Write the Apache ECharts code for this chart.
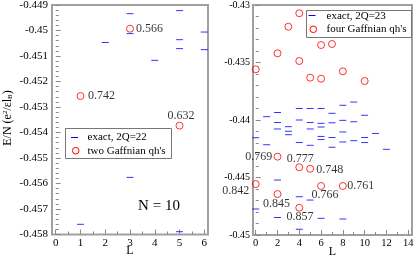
<!DOCTYPE html>
<html>
<head>
<meta charset="utf-8">
<script src="https://cdn.jsdelivr.net/npm/echarts@6/dist/echarts.min.js"></script>
<style>html,body{margin:0;padding:0;background:#fff}#c{width:415px;height:257px}</style>
</head>
<body>
<div id="c"></div>
<script>
// ---------- data: left panel (N = 10, 2Q = 22) ----------
const L_EXACT_22 = [1, 2, 3, 3, 3, 4, 5, 5, 5, 5, 6, 6];
const E_EXACT_22 = [-0.4576, -0.45047, -0.44934, -0.45012, -0.45576, -0.45117, -0.44922, -0.45036, -0.45071, -0.45789, -0.45006, -0.45075];
const L_GAFF_2 = [1, 3, 5];
const E_GAFF_2 = [-0.45257, -0.44993, -0.45373];
const OVL_GAFF_2 = ['0.742', '0.566', '0.632'];
const X_TICKS_LEFT = [0, 1, 2, 3, 4, 5, 6];
const Y_TICKS_LEFT = [-0.458, -0.457, -0.456, -0.455, -0.454, -0.453, -0.452, -0.451, -0.45, -0.449];

// ---------- data: right panel (2Q = 23) ----------
const L_EXACT_23 = [0, 0, 1, 1, 2, 2, 2, 2, 2, 3, 3, 3, 4, 4, 4, 4, 4, 5, 5, 5, 5, 5,
  6, 6, 6, 6, 6, 6, 7, 7, 7, 7, 8, 8, 8, 8, 8, 9, 9, 9, 10, 10, 10, 11, 12];
const E_EXACT_23 = [-0.44154, -0.44774, -0.43971, -0.44215, -0.43935, -0.44022, -0.44078, -0.44522, -0.44848,
  -0.44058, -0.44098, -0.44128, -0.4390, -0.44, -0.44196, -0.44667, -0.4495,
  -0.4390, -0.44022, -0.44078, -0.4422, -0.44696,
  -0.4390, -0.44029, -0.44061, -0.44143, -0.4417, -0.44855,
  -0.43942, -0.44024, -0.44152, -0.44237,
  -0.43872, -0.44003, -0.44104, -0.44191, -0.44861,
  -0.43844, -0.44015, -0.4418,
  -0.43959, -0.44152, -0.44196, -0.44117, -0.44255];
const L_GAFF_4 = [0, 2, 3, 4, 4, 5, 6, 6, 7, 8, 10, 0, 2, 2, 4, 5, 4, 6, 8];
const E_GAFF_4 = [-0.43559, -0.4342, -0.43189, -0.43072, -0.43487, -0.43632, -0.43348, -0.43641, -0.43339, -0.43577, -0.43661,
  -0.44557, -0.44319, -0.44644, -0.44411, -0.44424, -0.44763, -0.44574, -0.44574];
const OVL_GAFF_4 = ['', '', '', '', '', '', '', '', '', '', '',
  '0.842', '0.769', '0.845', '0.777', '0.748', '0.857', '0.766', '0.761'];
const X_TICKS_RIGHT = [0, 2, 4, 6, 8, 10, 12, 14];
const Y_TICKS_RIGHT = [-0.45, -0.445, -0.44, -0.435, -0.43];

// ---------- styles ----------
const SERIF = 'Liberation Serif';
const FRAME = '#a0a0a0';
const TICKC = '#8a8a8a';
const BLUE = '#0000ff';
const RED = '#ff0000';
// label placement (px offsets from circle centre), keyed by label text
const LABEL_OFFSET = {
  '0.742': [21, 0], '0.566': [19.5, 0], '0.632': [1.5, -9.6],
  '0.842': [-20, 6.7], '0.769': [-18.7, 0.6], '0.845': [-1, 9.7], '0.777': [1, -8.5],
  '0.748': [19.7, 0.6], '0.857': [0.7, 9], '0.766': [4, 9], '0.761': [18, 0]
};

function zip(xs, ys) { return xs.map((x, i) => [x, ys[i]]); }
function circles(xs, ys, labels) {
  return xs.map((x, i) => {
    const t = labels[i];
    const item = { value: [x, ys[i]] };
    if (t) {
      item.label = {
        show: true, position: 'inside', formatter: t, offset: LABEL_OFFSET[t] || [0, 0],
        color: '#000', fontFamily: SERIF, fontSize: 12, align: 'center', verticalAlign: 'middle'
      };
    }
    return item;
  });
}
function minorBetween(ticks, n) {
  const out = [];
  for (let i = 0; i < ticks.length - 1; i++) {
    for (let k = 1; k < n; k++) out.push(ticks[i] + (ticks[i + 1] - ticks[i]) * k / n);
  }
  return out;
}
const fmt = v => String(Number((+v).toFixed(4)));

function xAxisMain(grid, min, max, ticks, fs) {
  return {
    type: 'value', gridIndex: grid, min: min, max: max,
    axisLine: { show: false }, splitLine: { show: false },
    axisTick: { show: true, inside: true, length: 5, customValues: ticks, lineStyle: { color: TICKC, width: 1 } },
    axisLabel: { show: true, customValues: ticks, margin: 3, fontFamily: SERIF, fontSize: fs, color: '#000', formatter: fmt },
    name: 'L', nameLocation: 'middle', nameGap: 10.5, nameMoveOverlap: false,
    nameTextStyle: { fontFamily: SERIF, fontSize: 12, color: '#000', verticalAlign: 'top' }
  };
}
function axisMinor(kind, grid, min, max, vals, len) {
  return {
    type: 'value', gridIndex: grid, min: min, max: max, position: kind === 'x' ? 'bottom' : 'left',
    axisLine: { show: false }, splitLine: { show: false }, axisLabel: { show: false },
    axisTick: { show: true, inside: true, length: len, customValues: vals, lineStyle: { color: TICKC, width: 1 } }
  };
}
function yAxisMain(grid, min, max, ticks, fs, margin) {
  return {
    type: 'value', gridIndex: grid, min: min, max: max,
    axisLine: { show: false }, splitLine: { show: false },
    axisTick: { show: true, inside: true, length: 5, customValues: ticks, lineStyle: { color: TICKC, width: 1 } },
    axisLabel: { show: true, customValues: ticks, margin: margin, fontFamily: SERIF, fontSize: fs, color: '#000', formatter: fmt }
  };
}

const chart = echarts.init(document.getElementById('c'), null, { renderer: 'canvas' });
const option = {
  animation: false,
  backgroundColor: '#fff',
  grid: [
    { left: 52, top: 5, width: 156, height: 229.5, show: true, borderColor: FRAME, borderWidth: 2, backgroundColor: 'transparent',
      containLabel: false, outerBoundsMode: 'none' },
    { left: 253, top: 5, width: 159, height: 230, show: true, borderColor: FRAME, borderWidth: 2, backgroundColor: 'transparent',
      containLabel: false, outerBoundsMode: 'none' }
  ],
  xAxis: [
    xAxisMain(0, -0.15, 6.15, X_TICKS_LEFT, 11),
    axisMinor('x', 0, -0.15, 6.15, minorBetween(X_TICKS_LEFT, 2), 3),
    xAxisMain(1, -0.25, 14.35, X_TICKS_RIGHT, 10.5),
    axisMinor('x', 1, -0.25, 14.35, minorBetween(X_TICKS_RIGHT, 2), 3)
  ],
  yAxis: [
    yAxisMain(0, -0.458, -0.449, Y_TICKS_LEFT, 11, 4),
    axisMinor('y', 0, -0.458, -0.449, minorBetween(Y_TICKS_LEFT, 5), 3),
    yAxisMain(1, -0.45, -0.43, Y_TICKS_RIGHT, 10, 3),
    axisMinor('y', 1, -0.45, -0.43, minorBetween(Y_TICKS_RIGHT, 5), 3)
  ],
  series: [
    { name: 'exact, 2Q=22', type: 'scatter', xAxisIndex: 0, yAxisIndex: 0, symbol: 'rect', symbolSize: [7, 1],
      itemStyle: { color: BLUE }, data: zip(L_EXACT_22, E_EXACT_22) },
    { name: "two Gaffnian qh's", type: 'scatter', xAxisIndex: 0, yAxisIndex: 0, symbol: 'circle', symbolSize: 7,
      itemStyle: { color: 'rgba(0,0,0,0)', borderColor: RED, borderWidth: 1 }, data: circles(L_GAFF_2, E_GAFF_2, OVL_GAFF_2) },
    { name: 'exact, 2Q=23', type: 'scatter', xAxisIndex: 2, yAxisIndex: 2, symbol: 'rect', symbolSize: [7, 1],
      itemStyle: { color: BLUE }, data: zip(L_EXACT_23, E_EXACT_23) },
    { name: "four Gaffnian qh's", type: 'scatter', xAxisIndex: 2, yAxisIndex: 2, symbol: 'circle', symbolSize: 7,
      itemStyle: { color: 'rgba(0,0,0,0)', borderColor: RED, borderWidth: 1 }, data: circles(L_GAFF_4, E_GAFF_4, OVL_GAFF_4) }
  ],
  graphic: [
    // y-axis title
    { type: 'text', x: 8, y: 118, rotation: Math.PI / 2, z: 10,
      style: { text: '{a|E/N (e}{s|2}{a|/εl}{b|B}{a|)}', align: 'center', verticalAlign: 'middle',
        rich: { a: { fontFamily: SERIF, fontSize: 12, color: '#000' },
                s: { fontFamily: SERIF, fontSize: 7, color: '#000', verticalAlign: 'top' },
                b: { fontFamily: SERIF, fontSize: 7, color: '#000', verticalAlign: 'bottom' } } } },
    // N = 10
    { type: 'text', x: 159, y: 206, z: 10, style: { text: 'N = 10', fontFamily: SERIF, fontSize: 15, fill: '#000', align: 'center', verticalAlign: 'middle' } },
    // left legend
    { type: 'rect', z: 20, shape: { x: 65.5, y: 128.5, width: 106, height: 30 }, style: { fill: '#fff', stroke: '#777', lineWidth: 1 } },
    { type: 'line', z: 21, shape: { x1: 71, y1: 137.5, x2: 78, y2: 137.5 }, style: { stroke: BLUE, lineWidth: 1 } },
    { type: 'text', z: 21, x: 87.5, y: 137.3, style: { text: 'exact, 2Q=22', fontFamily: SERIF, fontSize: 11, fill: '#000', verticalAlign: 'middle' } },
    { type: 'circle', z: 21, shape: { cx: 75.7, cy: 150.7, r: 3.3 }, style: { fill: 'none', stroke: RED, lineWidth: 1 } },
    { type: 'text', z: 21, x: 87.5, y: 150.7, style: { text: "two Gaffnian qh's", fontFamily: SERIF, fontSize: 11, fill: '#000', verticalAlign: 'middle' } },
    // right legend
    { type: 'rect', z: 20, shape: { x: 306.5, y: 10.5, width: 105, height: 27 }, style: { fill: '#fff', stroke: '#777', lineWidth: 1 } },
    { type: 'line', z: 21, shape: { x1: 308.5, y1: 15.5, x2: 315.5, y2: 15.5 }, style: { stroke: BLUE, lineWidth: 1 } },
    { type: 'text', z: 21, x: 326.5, y: 16, style: { text: 'exact, 2Q=23', fontFamily: SERIF, fontSize: 11, fill: '#000', verticalAlign: 'middle' } },
    { type: 'circle', z: 21, shape: { cx: 313.3, cy: 29.3, r: 3.3 }, style: { fill: 'none', stroke: RED, lineWidth: 1 } },
    { type: 'text', z: 21, x: 326.5, y: 29.3, style: { text: "four Gaffnian qh's", fontFamily: SERIF, fontSize: 11, fill: '#000', verticalAlign: 'middle' } }
  ]
};
chart.setOption(option);
</script>
</body>
</html>
